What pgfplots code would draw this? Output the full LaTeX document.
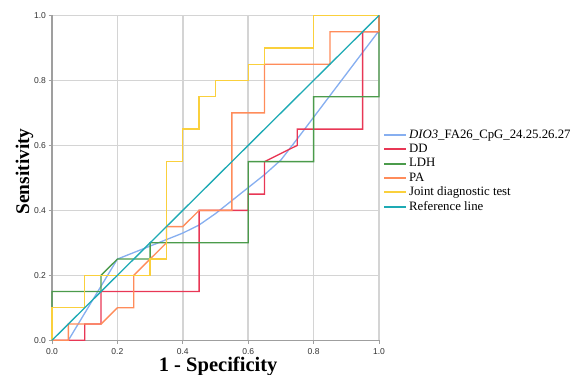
\documentclass[border=0pt]{standalone}
\usepackage{pgfplots}
\pgfplotsset{compat=1.18}
\usepackage{fontspec}
\setmainfont{Liberation Serif}
\newfontfamily\tickfont{Liberation Sans}
\definecolor{cDIO}{RGB}{135,175,240}
\definecolor{cDD}{RGB}{232,55,85}
\definecolor{cLDH}{RGB}{75,155,75}
\definecolor{cPA}{RGB}{255,140,90}
\definecolor{cJoint}{RGB}{250,208,60}
\definecolor{cRef}{RGB}{30,170,180}
\definecolor{cGrid}{RGB}{212,212,212}
\begin{document}
\begin{tikzpicture}
\clip (-39pt,-26pt) rectangle (396pt,255.2pt);
\begin{axis}[
  scale only axis,
  width=245.25pt, height=243.6pt,
  xmin=0, xmax=1, ymin=0, ymax=1,
  xtick={0,0.2,...,1}, ytick={0,0.2,...,1},
  axis lines=left,
  grid=major,
  major grid style={cGrid, line width=1.1pt},
  axis line style={-, draw=gray!75, line width=0.8pt},
  tick style={gray!75, line width=0.6pt},
  tick align=outside, major tick length=2.5pt,
  /pgf/number format/assume math mode=true,
  /pgf/number format/.cd, fixed, fixed zerofill, precision=1, /pgfplots/.cd,
  ticklabel style={font=\tickfont\fontsize{6.4}{7}\selectfont, text=black!80},
  xticklabel style={yshift=-0.5pt},
  yticklabel style={xshift=1.5pt},
  clip=false,
  legend cell align=left,
  legend image code/.code={\draw[#1, line width=1.5pt] (0pt,0pt) -- (16.5pt,0pt);},
  legend style={at={(rel axis cs:1.0125,0.654)}, anchor=north west, draw=none, fill=none,
    inner sep=0pt, row sep=0.3pt, font=\fontsize{9.6}{10.2}\selectfont,
    nodes={inner sep=1.3pt}},
]
\addplot[cDIO, line width=1pt] coordinates {
(0.05,0) (0.2,0.25) (0.25,0.27) (0.3,0.29) (0.35,0.31) (0.4,0.33) (0.45,0.355) (0.5,0.39) (0.55,0.43) (0.6,0.47) (0.65,0.51) (0.7,0.555) (0.75,0.62) (1,0.953)};
\addlegendentry{\textit{DIO3}\_FA26\_CpG\_24.25.26.27}
\addplot[cDD, line width=1pt] coordinates {
(0,0) (0.1,0) (0.1,0.05) (0.15,0.05) (0.15,0.15) (0.45,0.15) (0.45,0.4) (0.6,0.4) (0.6,0.45) (0.65,0.45) (0.65,0.55) (0.75,0.6) (0.75,0.65) (0.95,0.65) (0.95,0.95) (1,0.95) (1,1)};
\addlegendentry{DD}
\addplot[cLDH, line width=1pt] coordinates {
(0,0) (0,0.15) (0.15,0.15) (0.15,0.2) (0.2,0.25) (0.3,0.25) (0.3,0.3) (0.6,0.3) (0.6,0.55) (0.8,0.55) (0.8,0.75) (1,0.75) (1,1)};
\addlegendentry{LDH}
\addplot[cPA, line width=1pt] coordinates {
(0,0) (0.05,0) (0.05,0.05) (0.15,0.05) (0.2,0.1) (0.25,0.1) (0.25,0.2) (0.3,0.25) (0.35,0.3) (0.35,0.35) (0.4,0.35) (0.45,0.4) (0.55,0.4) (0.55,0.7) (0.65,0.7) (0.65,0.85) (0.85,0.85) (0.85,0.95) (1,0.95) (1,1)};
\addlegendentry{PA}
\addplot[cJoint, line width=1pt] coordinates {
(0,0) (0,0.1) (0.1,0.1) (0.1,0.2) (0.3,0.2) (0.3,0.25) (0.35,0.25) (0.35,0.55) (0.4,0.55) (0.4,0.65) (0.45,0.65) (0.45,0.75) (0.5,0.75) (0.5,0.8) (0.6,0.8) (0.6,0.85) (0.65,0.85) (0.65,0.9) (0.8,0.9) (0.8,1) (1,1)};
\addlegendentry{Joint diagnostic test}
\addplot[cRef, line width=1pt] coordinates {(0,0) (1,1)};
\addlegendentry{Reference line}
\node[anchor=base, font=\bfseries\fontsize{15.4}{16}\selectfont] at (rel axis cs:0.508,-0.0976) {1 - Specificity};
\node[anchor=base, rotate=90, font=\bfseries\fontsize{14.5}{16}\selectfont] at (rel axis cs:-0.07,0.52) {Sensitivity};
\end{axis}
\end{tikzpicture}
\end{document}
